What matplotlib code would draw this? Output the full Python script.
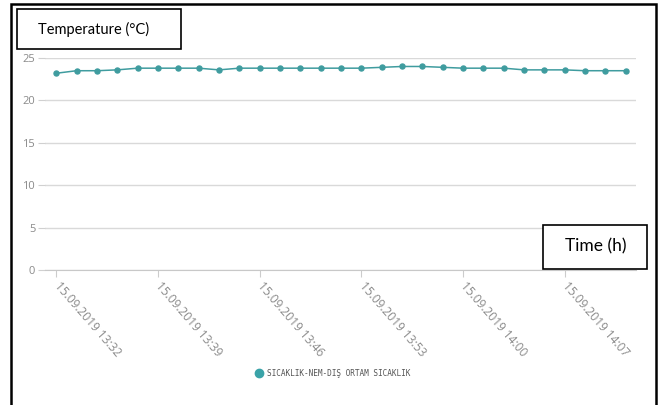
import matplotlib
matplotlib.use("Agg")
import matplotlib.pyplot as plt
from matplotlib.patches import Rectangle
from matplotlib.lines import Line2D

# readings every ~84 s
temperature = [23.2, 23.5, 23.5, 23.6, 23.8, 23.8, 23.8, 23.8, 23.6, 23.8,
               23.8, 23.8, 23.8, 23.8, 23.8, 23.8, 23.9, 24.0, 24.0, 23.9,
               23.8, 23.8, 23.8, 23.6, 23.6, 23.6, 23.5, 23.5, 23.5]
tick_index = [0, 5, 10, 15, 20, 25]
tick_labels = ["15.09.2019 13:32", "15.09.2019 13:39", "15.09.2019 13:46",
               "15.09.2019 13:53", "15.09.2019 14:00", "15.09.2019 14:07"]
y_ticks = [0, 5, 10, 15, 20, 25]
series_name = "SICAKLIK-NEM-DIŞ ORTAM SICAKLIK"

W, H = 662, 405
line_color = "#3f9c9f"
grey_text = "#8a8a8a"


def px(x, y):
    # pixel (from top-left) -> figure fraction
    return x / W, 1 - y / H


fig = plt.figure(figsize=(W / 100, H / 100), dpi=100)
ax = fig.add_axes([45 / W, 1 - 270 / H, (636 - 45) / W, (270 - 58) / H])

x = list(range(len(temperature)))
ax.plot(x, temperature, color=line_color, linewidth=1.1, marker="o",
        markersize=3.6, zorder=3)

ax.set_ylim(0, 25)
ax.set_xlim(-0.55, len(temperature) - 0.5)
ax.set_yticks(y_ticks)
ax.set_yticklabels([str(v) for v in y_ticks], fontsize=8, color=grey_text,
                   family="Open Sans")
ax.set_xticks(tick_index)
ax.set_xticklabels(tick_labels, fontsize=8.6, color=grey_text,
                   family="Open Sans", rotation=-49, ha="left", va="center",
                   rotation_mode="anchor")
ax.tick_params(axis="x", length=5, color="#cccccc", pad=5)
ax.tick_params(axis="y", length=5, color="#d0d0d0", pad=2)
ax.grid(axis="y", color="#d9d9d9", linewidth=1)
for side in ["left", "right", "top"]:
    ax.spines[side].set_visible(False)
ax.spines["bottom"].set_color("#c8c8c8")
ax.set_axisbelow(True)

# legend under the chart
handle = Line2D([], [], marker="o", linestyle="none", color="#3aa3a8",
                markersize=6)
fig.legend([handle], [series_name], loc="center left",
           bbox_to_anchor=px(248, 373), frameon=False, handletextpad=0.55,
           prop={"family": "DejaVu Sans Mono", "size": 5.6},
           labelcolor="#555555", handlelength=1.0)

# outer frame and annotation boxes
x0, y0 = px(11, 4)
x1, y1 = px(656, 410)
fig.add_artist(Rectangle((x0, y1), x1 - x0, y0 - y1, transform=fig.transFigure,
                         fill=False, edgecolor="black", linewidth=1.8,
                         zorder=10))

bx0, by0 = px(17, 9)
bx1, by1 = px(181, 49)
fig.add_artist(Rectangle((bx0, by1), bx1 - bx0, by0 - by1,
                         transform=fig.transFigure, facecolor="white",
                         edgecolor="black", linewidth=1.2, zorder=10))
fig.text(*px(38, 29), "Temperature (°C)", fontsize=10.5, family="Lato",
         ha="left", va="center", zorder=11)

tx0, ty0 = px(543, 225)
tx1, ty1 = px(647, 269)
fig.add_artist(Rectangle((tx0, ty1), tx1 - tx0, ty0 - ty1,
                         transform=fig.transFigure, facecolor="white",
                         edgecolor="black", linewidth=1.2, zorder=10))
fig.text(*px(596, 246), "Time (h)", fontsize=12.5, family="Lato",
         ha="center", va="center", zorder=11)

fig.savefig("out.png", dpi=100, facecolor="white")
